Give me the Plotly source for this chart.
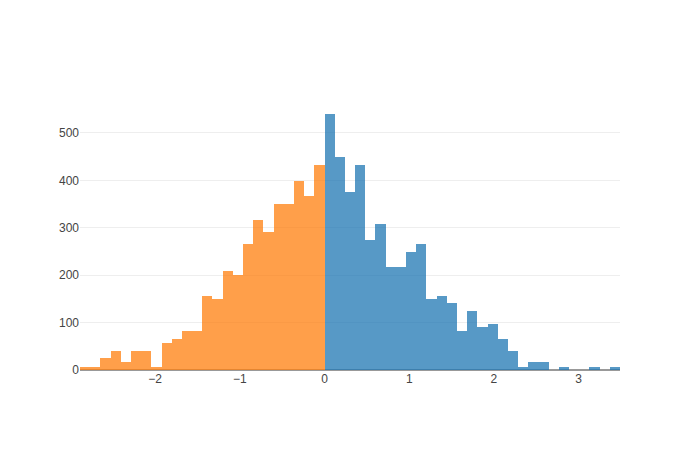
import plotly.graph_objects as go

# histogram bins (counts per bin)
bin_width = 0.1203
neg_counts = [7, 7, 25, 41, 16, 41, 41, 7, 58, 66, 82, 82, 157, 149, 208, 200,
              265, 316, 291, 350, 350, 399, 367, 433]
pos_counts = [541, 449, 376, 433, 274, 308, 217, 217, 249, 266, 149, 157, 141,
              82, 124, 90, 98, 66, 41, 7, 16, 16, 0, 7, 0, 0, 7, 0, 7]

n_neg = len(neg_counts)
neg_x = [(i - n_neg + 0.5) * bin_width for i in range(n_neg)]
pos_x = [(i + 0.5) * bin_width for i in range(len(pos_counts))]

fig = go.Figure()
fig.add_trace(go.Bar(x=neg_x, y=neg_counts, width=bin_width,
                     marker=dict(color='#ff7f0e', line=dict(width=0)), opacity=0.75))
fig.add_trace(go.Bar(x=pos_x, y=pos_counts, width=bin_width,
                     marker=dict(color='#1f77b4', line=dict(width=0)), opacity=0.75))

fig.update_layout(
    template='none',
    width=700, height=450,
    barmode='overlay', bargap=0,
    showlegend=False,
    font=dict(family='Arial', color='#444', size=12),
    # page has an 8px body margin, so shift the plot area back
    margin=dict(l=72, r=88, t=92, b=88),
    xaxis=dict(range=[-n_neg * bin_width, len(pos_counts) * bin_width],
               showgrid=False, zeroline=False,
               dtick=1, ticks=''),
    yaxis=dict(gridcolor='#eee', zeroline=True, zerolinecolor='#999',
               zerolinewidth=2, dtick=100, ticks=''),
)

fig.write_html("out.html")
